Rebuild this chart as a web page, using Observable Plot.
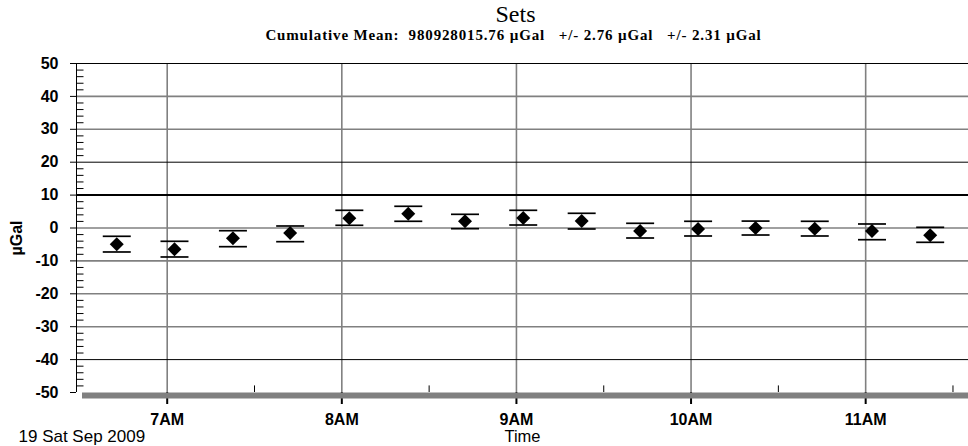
<!DOCTYPE html>
<html>
<head>
<meta charset="utf-8">
<script src="https://cdn.jsdelivr.net/npm/d3@7"></script>
<script src="https://cdn.jsdelivr.net/npm/@observablehq/plot@0.6"></script>
<style>
  html, body { margin: 0; padding: 0; background: #fff; }
  #chart { width: 968px; height: 446px; overflow: hidden; }
</style>
</head>
<body>
<div id="chart"></div>
<script>
// ---- data ----
const day = "2009-09-19";
const times = ["06:42:40","07:02:30","07:22:35","07:42:15","08:02:35","08:22:50","08:42:20","09:02:20",
               "09:22:25","09:42:30","10:02:25","10:22:10","10:42:30","11:02:10","11:22:10"];
const values = [-4.95, -6.47, -3.13, -1.52, 2.95, 4.35, 2.04, 3.04, 2.13, -0.91, -0.30, 0.00, -0.21, -0.91, -2.22];
const upper  = [-2.52, -4.04, -0.82, 0.61, 5.38, 6.60, 4.16, 5.38, 4.47, 1.43, 2.04, 2.10, 2.04, 1.22, 0.21];
const lower  = [-7.29, -8.81, -5.68, -4.16, 0.82, 2.04, -0.21, 0.91, -0.30, -3.04, -2.43, -2.13, -2.43, -3.56, -4.35];
const hourTicks = ["07:00","08:00","09:00","10:00","11:00"];
const halfHourTicks = ["07:30","08:30","09:30","10:30","11:30"];
const yTicks = [50, 40, 30, 20, 10, 0, -10, -20, -30, -40, -50];
const yMinor = [48,46,44,42,38,36,34,32,28,26,24,22,18,16,14,12,8,6,4,2,-2,-4,-6,-8,-12,-14,-16,-18,-22,-24,-26,-28,-32,-34,-36,-38,-42,-44,-46,-48];
const xDomain = ["06:28:50","11:35:20"];
const yDomain = [-50, 50];
const title = "Sets";
const subtitle = "Cumulative Mean:\u00a0 980928015.76 \u00b5Gal\u00a0\u00a0 +/- 2.76 \u00b5Gal\u00a0\u00a0 +/- 2.31 \u00b5Gal";
const yLabel = "\u00b5Gal";
const xLabel = "Time";
const dateLabel = "19 Sat Sep 2009";

// ---- build ----
const T = s => new Date(`${day}T${s.length === 5 ? s + ":00" : s}Z`);
const points = times.map((t, i) => ({time: T(t), value: values[i], upper: upper[i], lower: lower[i]}));
const hours = hourTicks.map(T);
const halfHours = halfHourTicks.map(T);

const capSymbol = { draw(ctx) { ctx.moveTo(-14, 0); ctx.lineTo(14, 0); } };
const minorYSymbol = { draw(ctx) { ctx.moveTo(0, 0); ctx.lineTo(7, 0); } };

const grayGrid = yTicks.filter(v => ![50, 20, 10, -40, -50].includes(v));
const darkGrid = yTicks.filter(v => [50, 20, -40].includes(v));
const serif = "Liberation Serif, Times New Roman, serif";

const chart = Plot.plot({
  width: 968,
  height: 446,
  marginLeft: 76,
  marginRight: 0,
  marginTop: 63,
  marginBottom: 54,
  style: { fontFamily: "Liberation Sans, Arial, sans-serif", background: "#fff", overflow: "visible" },
  x: { type: "utc", domain: xDomain.map(T) },
  y: { domain: yDomain },
  marks: [
    // grid
    Plot.ruleX(hours, { stroke: "#808080", strokeWidth: 1.6 }),
    Plot.ruleY(grayGrid, { stroke: "#808080", strokeWidth: 1.6 }),
    Plot.ruleY(darkGrid, { stroke: "#000", strokeWidth: 1 }),
    Plot.ruleY([10], { stroke: "#000", strokeWidth: 2 }),
    // axes
    Plot.axisX({ ticks: hours, tickSize: 12, tickPadding: 9, strokeWidth: 2, fontSize: 16, fontWeight: "bold",
                 tickFormat: d => `${(d.getUTCHours() % 12) || 12}${d.getUTCHours() < 12 ? "AM" : "PM"}`, label: null }),
    Plot.axisY({ ticks: yTicks, tickSize: 6, tickPadding: 12, fontSize: 16, fontWeight: "bold",
                 tickFormat: d => String(d), label: null }),
    Plot.ruleX([T(xDomain[0])], { stroke: "#000", strokeWidth: 1 }),
    Plot.dot(yMinor, { y: d => d, frameAnchor: "left", symbol: minorYSymbol, fill: "none", stroke: "#000", strokeWidth: 1 }),
    Plot.ruleX(halfHours, { y1: -50, y2: -48, stroke: "#000", strokeWidth: 1 }),
    // bottom bar
    Plot.ruleY([-50], { stroke: "#808080", strokeWidth: 6, dy: 3, insetLeft: 6 }),
    // data
    Plot.dot(points, { x: "time", y: "upper", symbol: capSymbol, fill: "none", stroke: "#000", strokeWidth: 1.7 }),
    Plot.dot(points, { x: "time", y: "lower", symbol: capSymbol, fill: "none", stroke: "#000", strokeWidth: 1.7 }),
    Plot.dot(points, { x: "time", y: "value", symbol: "diamond2", r: 6.3, fill: "#000", stroke: "none" }),
    // texts
    Plot.text([title], { text: d => d, frameAnchor: "top", lineAnchor: "middle", dy: -49, dx: -7, fontSize: 24, fontFamily: serif, fill: "#000" }),
    Plot.text([subtitle], { text: d => d, frameAnchor: "top", lineAnchor: "middle", dy: -28, dx: -9, fontSize: 15, fontWeight: "bold", fontFamily: serif, fill: "#000" }),
    Plot.text([yLabel], { text: d => d, frameAnchor: "left", lineAnchor: "middle", textAnchor: "middle", dx: -60, dy: 10, rotate: -90, fontSize: 16, fontWeight: "bold", fill: "#000" }),
    Plot.text([xLabel], { text: d => d, frameAnchor: "bottom", lineAnchor: "middle", dy: 44, fontSize: 16.5, fill: "#000" }),
    Plot.text([dateLabel], { text: d => d, frameAnchor: "bottom-left", lineAnchor: "middle", textAnchor: "start", dx: -58, dy: 44, fontSize: 17, fill: "#000" })
  ]
});
// slightly spread the subtitle letters like the reference
for (const t of chart.querySelectorAll("text")) {
  if (t.textContent === subtitle) t.setAttribute("letter-spacing", "0.85");
}
document.getElementById("chart").appendChild(chart);
</script>
</body>
</html>
